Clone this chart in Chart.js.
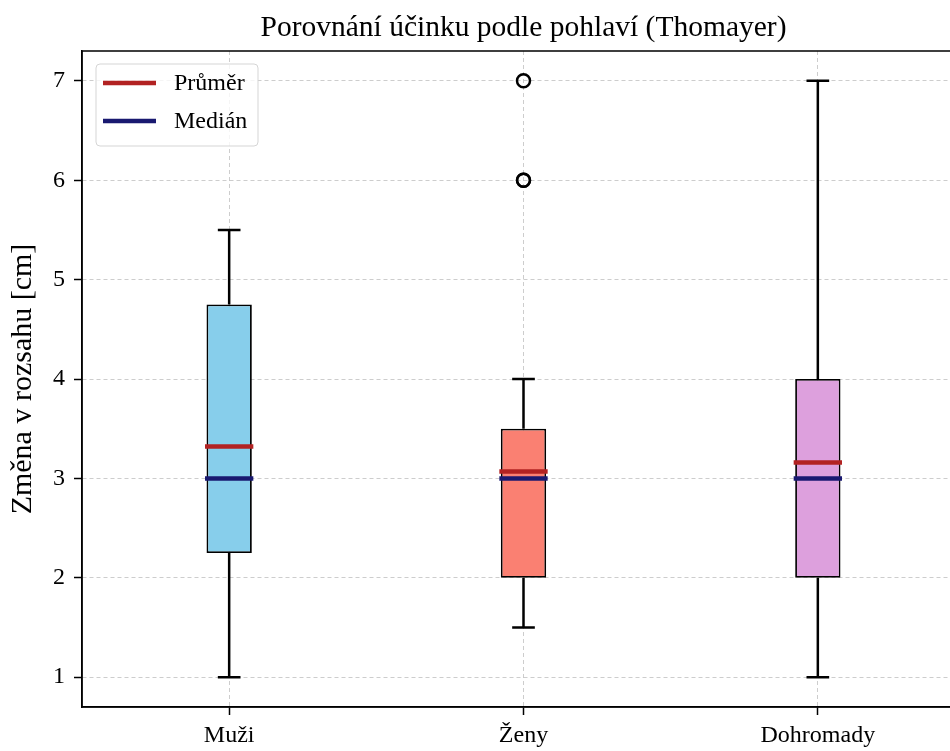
<!DOCTYPE html>
<html>
<head>
  <title>Porovnání účinku podle pohlaví</title>
  <script src="https://cdn.jsdelivr.net/npm/chart.js"></script>
  <style>
    html, body { margin: 0; padding: 0; overflow: hidden; background: #fff; }
    #wrap { width: 975px; height: 751px; }
  </style>
</head>
<body>
  <div id="wrap"><canvas id="graf"></canvas></div>

  <script>
    // data
    const skupiny = ["Muži", "Ženy", "Dohromady"];
    const minima = [1, 1.5, 1];
    const q1 = [2.25, 2, 2];
    const mediany = [3, 3, 3];
    const q3 = [4.75, 3.5, 4];
    const maxima = [5.5, 4, 7];
    const prumery = [3.32, 3.07, 3.16];
    const odlehleSkupina = ["Ženy", "Ženy", "Ženy"];
    const odlehleHodnoty = [6, 6, 7];
    const barvy = ["#87CEEB", "#FA8072", "#DDA0DD"];
    const yTicks = [1, 2, 3, 4, 5, 6, 7];

    const FONT = "'Liberation Serif', 'Times New Roman', serif";
    const BARVA_PRUMER = "#B22222";
    const BARVA_MEDIAN = "#191970";

    // vousy, mediány, průměry, rámeček a legenda
    const boxPlugin = {
      id: "boxPlugin",
      afterDatasetsDraw(chart) {
        const ctx = chart.ctx;
        const x = chart.scales.x;
        const y = chart.scales.y;
        const meta = chart.getDatasetMeta(0);
        ctx.save();
        skupiny.forEach((s, i) => {
          const cx = x.getPixelForValue(i);
          const bar = meta.data[i];
          const half = bar.width / 2;
          const cap = half / 2;
          ctx.strokeStyle = "#000";
          ctx.lineWidth = 2.5;
          ctx.beginPath();
          ctx.moveTo(cx, y.getPixelForValue(q1[i]));
          ctx.lineTo(cx, y.getPixelForValue(minima[i]));
          ctx.moveTo(cx - cap, y.getPixelForValue(minima[i]));
          ctx.lineTo(cx + cap, y.getPixelForValue(minima[i]));
          ctx.moveTo(cx, y.getPixelForValue(q3[i]));
          ctx.lineTo(cx, y.getPixelForValue(maxima[i]));
          ctx.moveTo(cx - cap, y.getPixelForValue(maxima[i]));
          ctx.lineTo(cx + cap, y.getPixelForValue(maxima[i]));
          ctx.stroke();

          ctx.lineWidth = 4.5;
          ctx.strokeStyle = BARVA_MEDIAN;
          ctx.beginPath();
          ctx.moveTo(cx - half - 1.5, y.getPixelForValue(mediany[i]));
          ctx.lineTo(cx + half + 1.5, y.getPixelForValue(mediany[i]));
          ctx.stroke();
          ctx.strokeStyle = BARVA_PRUMER;
          ctx.beginPath();
          ctx.moveTo(cx - half - 1.5, y.getPixelForValue(prumery[i]));
          ctx.lineTo(cx + half + 1.5, y.getPixelForValue(prumery[i]));
          ctx.stroke();
        });

        const a = chart.chartArea;
        ctx.strokeStyle = "#000";
        ctx.lineWidth = 1.5;
        ctx.strokeRect(a.left, a.top, a.right - a.left, a.bottom - a.top);

        // legenda
        const lx = a.left + 14, ly = a.top + 13, lw = 162, lh = 82;
        ctx.fillStyle = "rgba(255,255,255,0.8)";
        ctx.strokeStyle = "#d5d5d5";
        ctx.lineWidth = 1;
        ctx.beginPath();
        ctx.roundRect(lx, ly, lw, lh, 4);
        ctx.fill();
        ctx.stroke();
        const polozky = [["Průměr", BARVA_PRUMER], ["Medián", BARVA_MEDIAN]];
        ctx.font = "24px " + FONT;
        ctx.textBaseline = "middle";
        polozky.forEach((p, k) => {
          const yy = ly + 19 + k * 38;
          ctx.strokeStyle = p[1];
          ctx.lineWidth = 4.5;
          ctx.beginPath();
          ctx.moveTo(lx + 7, yy);
          ctx.lineTo(lx + 60, yy);
          ctx.stroke();
          ctx.fillStyle = "#000";
          ctx.fillText(p[0], lx + 78, yy + 1);
        });

        // titulek nad oblastí grafu
        ctx.font = "29.5px " + FONT;
        ctx.textAlign = "center";
        ctx.textBaseline = "middle";
        ctx.fillStyle = "#000";
        ctx.fillText("Porovnání účinku podle pohlaví (Thomayer)", (a.left + a.right) / 2, 28);
        ctx.restore();
      }
    };

    new Chart(document.getElementById("graf").getContext("2d"), {
      data: {
        labels: skupiny,
        datasets: [
          {
            type: "bar",
            data: skupiny.map((s, i) => [q1[i], q3[i]]),
            backgroundColor: barvy,
            borderColor: "#000",
            borderWidth: 1.8,
            borderSkipped: false,
            categoryPercentage: 1,
            barPercentage: 0.154,
            order: 2
          },
          {
            type: "line",
            data: odlehleSkupina.map((s, i) => ({ x: s, y: odlehleHodnoty[i] })),
            showLine: false,
            pointStyle: "circle",
            pointRadius: 6.5,
            pointBorderWidth: 2.5,
            pointBackgroundColor: "rgba(0,0,0,0)",
            pointBorderColor: "#000",
            order: 1
          }
        ]
      },
      options: {
        responsive: true,
        maintainAspectRatio: false,
        animation: false,
        layout: { padding: { top: 51, right: 10, left: 0, bottom: 0 } },
        plugins: {
          legend: { display: false },
          tooltip: { enabled: false }
        },
        scales: {
          x: {
            type: "category",
            offset: true,
            grid: {
              offset: false,
              color: "#c0c0c0",
              lineWidth: 0.8,
              tickColor: "#000",
              tickWidth: 1.5,
              tickLength: 8,
              tickBorderDash: []
            },
            border: { color: "#000", width: 1.5, dash: [4, 3] },
            ticks: { color: "#000", font: { family: FONT, size: 24 }, padding: 6 },
            afterFit: s => { s.height = 44; }
          },
          y: {
            min: 0.7,
            max: 7.3,
            afterBuildTicks: s => { s.ticks = yTicks.map(v => ({ value: v })); },
            grid: {
              color: "#c0c0c0",
              lineWidth: 0.8,
              tickColor: "#000",
              tickWidth: 1.5,
              tickLength: 8,
              tickBorderDash: []
            },
            border: { color: "#000", width: 1.5, dash: [4, 3] },
            ticks: { color: "#000", font: { family: FONT, size: 24 }, padding: 9 },
            title: {
              display: true,
              text: "Změna v rozsahu [cm]",
              color: "#000",
              font: { family: FONT, size: 30 },
              padding: { top: 5, bottom: 0 }
            },
            afterFit: s => { s.width = 82; }
          }
        }
      },
      plugins: [boxPlugin]
    });
  </script>
</body>
</html>
